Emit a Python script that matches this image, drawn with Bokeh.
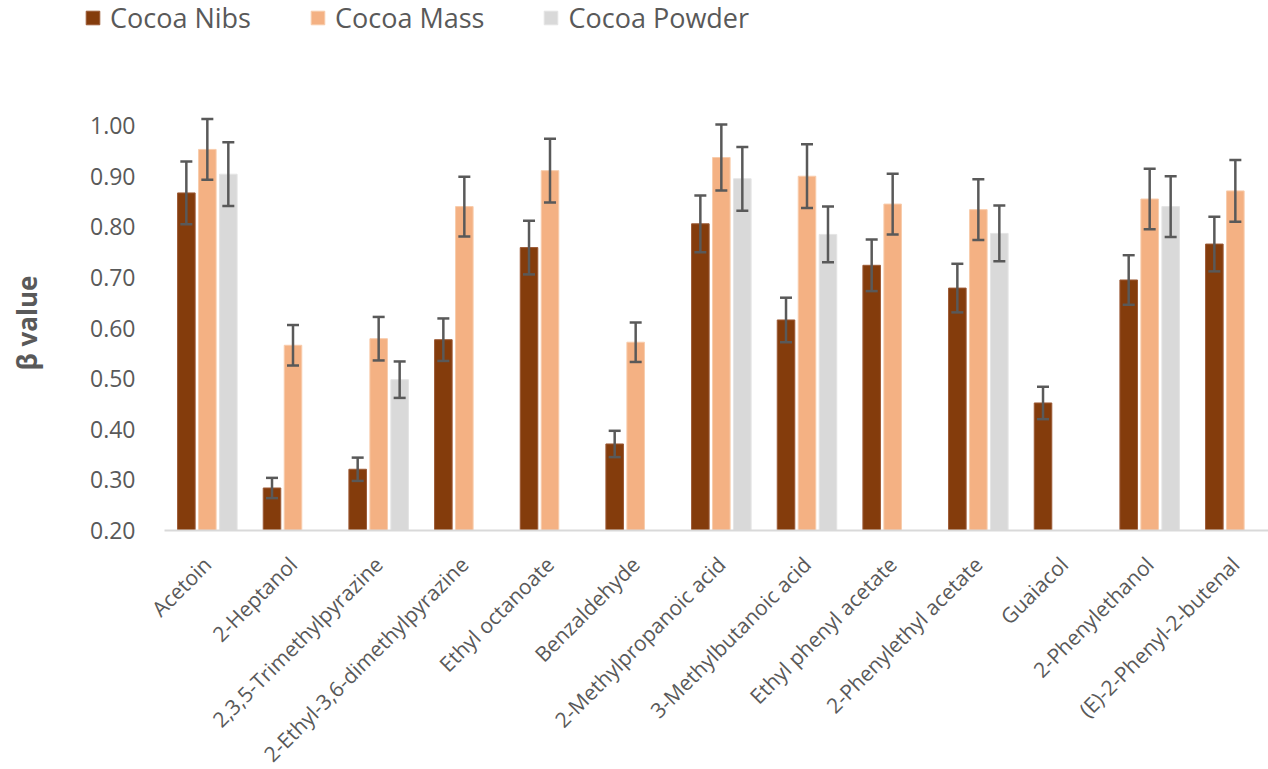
import math
from bokeh.plotting import figure
from bokeh.layouts import column
from bokeh.models import (ColumnDataSource, Range1d, Whisker, TeeHead, Legend,
                          LegendItem, FixedTicker, NumeralTickFormatter)
from bokeh.embed import file_html
from bokeh.resources import INLINE

categories = ["Acetoin", "2-Heptanol", "2,3,5-Trimethylpyrazine",
              "2-Ethyl-3,6-dimethylpyrazine", "Ethyl octanoate", "Benzaldehyde",
              "2-Methylpropanoic acid", "3-Methylbutanoic acid", "Ethyl phenyl acetate",
              "2-Phenylethyl acetate", "Guaiacol", "2-Phenylethanol",
              "(E)-2-Phenyl-2-butenal"]
series_names = ["Cocoa Nibs", "Cocoa Mass", "Cocoa Powder"]
nibs = [0.867, 0.284, 0.321, 0.577, 0.759, 0.371, 0.806, 0.616, 0.724, 0.679, 0.452, 0.695, 0.766]
nibs_err = [0.062, 0.020, 0.023, 0.042, 0.053, 0.026, 0.056, 0.044, 0.051, 0.048, 0.032, 0.049, 0.054]
mass = [0.953, 0.566, 0.579, 0.840, 0.911, 0.572, 0.937, 0.900, 0.845, 0.834, None, 0.855, 0.871]
mass_err = [0.060, 0.040, 0.043, 0.059, 0.063, 0.039, 0.065, 0.063, 0.060, 0.060, None, 0.060, 0.061]
powder = [0.904, None, 0.498, None, None, None, 0.895, 0.785, None, 0.787, None, 0.840, None]
powder_err = [0.063, None, 0.036, None, None, None, 0.063, 0.055, None, 0.055, None, 0.060, None]
y_ticks = [0.2, 0.3, 0.4, 0.5, 0.6, 0.7, 0.8, 0.9, 1.0]

colors = ["#843C0C", "#F4B183", "#D9D9D9"]
edge_colors = ["#9C5A36", "#F8CCAC", "#E4E4E4"]
offsets = [-0.245, 0.0, 0.245]
FONT = "Open Sans"
GREY = "#595959"

# ---- main chart ----
p = figure(frame_width=1104, frame_height=415,
           x_range=Range1d(0, 12.887), y_range=Range1d(0.2, 1.02),
           output_backend="svg", toolbar_location=None,
           min_border_left=164, min_border_right=0,
           min_border_top=15, min_border_bottom=239,
           background_fill_color="white", border_fill_color="white")
p.frame_align = False
p.outline_line_color = None
p.xgrid.visible = False
p.ygrid.visible = False

for vals, errs, off, col, ec in zip([nibs, mass, powder], [nibs_err, mass_err, powder_err],
                                    offsets, colors, edge_colors):
    xs, tops, ups, lows = [], [], [], []
    for i, (v, e) in enumerate(zip(vals, errs)):
        if v is None:
            continue
        xs.append(i + 0.5 + off)
        tops.append(v)
        ups.append(v + e)
        lows.append(v - e)
    src = ColumnDataSource(dict(x=xs, top=tops, upper=ups, lower=lows))
    p.vbar(x="x", top="top", bottom=0.2, width=0.205, source=src,
           fill_color=col, line_color=ec, line_width=1)
    w = Whisker(source=src, base="x", upper="upper", lower="lower",
                line_color=GREY, line_width=2.5, level="overlay",
                upper_head=TeeHead(size=12, line_color=GREY, line_width=2.5),
                lower_head=TeeHead(size=12, line_color=GREY, line_width=2.5))
    p.add_layout(w)

p.xaxis.ticker = FixedTicker(ticks=[i + 0.5 for i in range(len(categories))])
p.xaxis.major_label_overrides = {i + 0.5: c for i, c in enumerate(categories)}
p.xaxis.major_label_orientation = math.pi / 4
p.xaxis.major_label_text_font = FONT
p.xaxis.major_label_text_font_size = "21px"
p.xaxis.major_label_text_color = GREY
p.xaxis.major_label_standoff = 24
p.xaxis.major_tick_line_color = None
p.xaxis.minor_tick_line_color = None
p.xaxis.axis_line_color = "#D9D9D9"
p.xaxis.axis_line_width = 2

p.yaxis.ticker = FixedTicker(ticks=y_ticks)
p.yaxis.formatter = NumeralTickFormatter(format="0.00")
p.yaxis.major_label_text_font = FONT
p.yaxis.major_label_text_font_size = "23px"
p.yaxis.major_label_text_color = GREY
p.yaxis.major_label_standoff = 23
p.yaxis.major_tick_line_color = None
p.yaxis.minor_tick_line_color = None
p.yaxis.axis_line_color = None
p.yaxis.axis_label = "β value"
p.yaxis.axis_label_text_font = FONT
p.yaxis.axis_label_text_font_style = "bold"
p.yaxis.axis_label_text_font_size = "26px"
p.yaxis.axis_label_text_color = GREY
p.yaxis.axis_label_standoff = 42

# ---- legend strip above the chart ----
lp = figure(width=1268, height=100, x_range=Range1d(0, 1), y_range=Range1d(0, 1),
            x_axis_type=None, y_axis_type=None,
            output_backend="svg", toolbar_location=None,
            min_border_left=0, min_border_right=0, min_border_top=0, min_border_bottom=0,
            background_fill_color="white", border_fill_color="white")
lp.frame_align = False
lp.outline_line_color = None
lp.xgrid.visible = False
lp.ygrid.visible = False
items = []
for name, col, ec in zip(series_names, colors, edge_colors):
    # legend swatch renderer; its single bar lies entirely outside the visible ranges
    r = lp.vbar(x=[-5], top=[-5], bottom=[-6], width=0.1,
                fill_color=col, line_color=ec, line_width=1)
    items.append(LegendItem(label=name, renderers=[r]))
legend = Legend(items=items, location=(84, 64), orientation="horizontal",
                glyph_width=17, glyph_height=17, label_standoff=9, spacing=58,
                label_text_font=FONT, label_text_font_size="27px",
                label_text_color=GREY, padding=0, margin=0,
                border_line_color=None, background_fill_alpha=0)
lp.add_layout(legend)

layout = column(lp, p, spacing=0)
open("out.html", "w").write(file_html(layout, INLINE))
